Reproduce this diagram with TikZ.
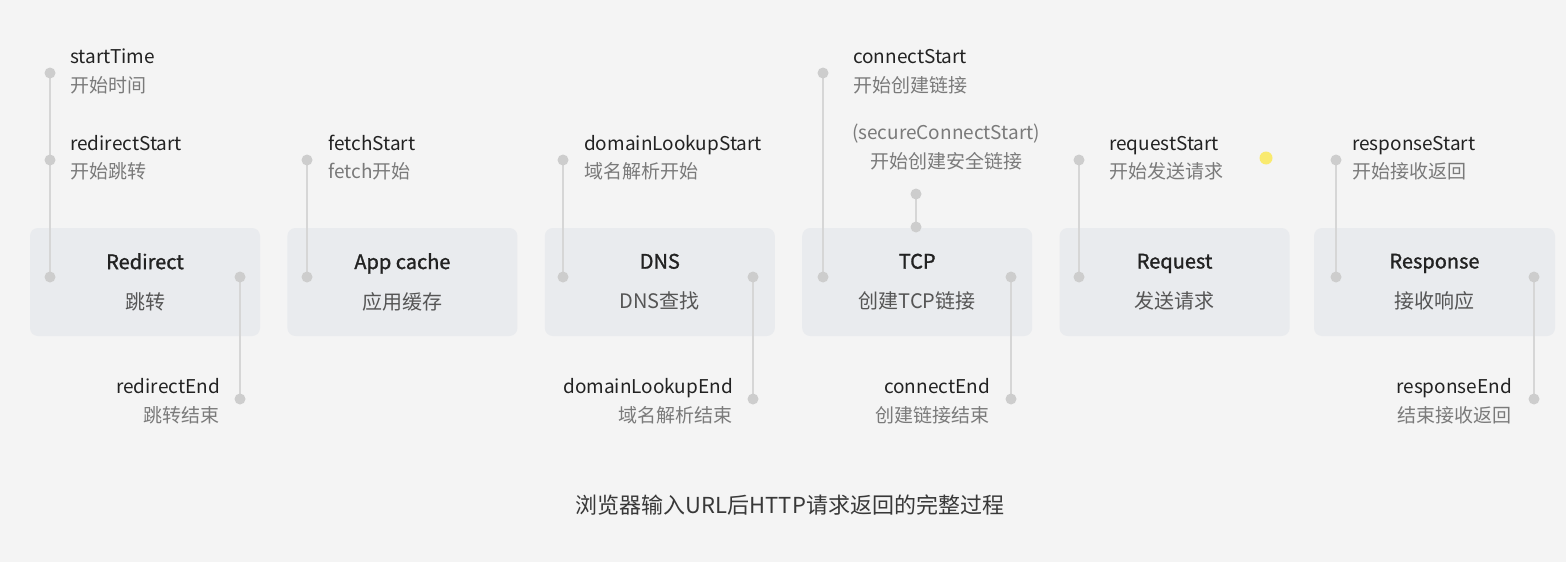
\documentclass[tikz,border=0pt]{standalone}
\usepackage{fontspec}
\setmainfont{Noto Sans CJK SC}
\newfontfamily\stagefont[FakeBold=1.3]{Noto Sans CJK SC}
\usetikzlibrary{positioning}
\definecolor{bgpage}{HTML}{F4F4F4}
\definecolor{boxgray}{HTML}{E9EBEE}
\definecolor{dotgray}{HTML}{CDCDCD}
\definecolor{linegray}{HTML}{D6D6D6}
\definecolor{ink}{HTML}{222222}
\definecolor{subink}{HTML}{555555}
\definecolor{mute}{HTML}{7A7A7A}
\tikzset{
  stage/.style={rounded corners=8pt,fill=boxgray,minimum width=230pt,minimum height=108pt,
                inner sep=0pt,align=center,font=\fontsize{20}{40}\selectfont,text=ink},
  tdot/.style={circle,fill=dotgray,inner sep=0pt,minimum size=11pt},
  link/.style={draw=linegray,line width=2pt},
  evname/.style={font=\fontsize{19}{22}\selectfont,text=ink,inner sep=0pt,
                 text height=14pt,text depth=4pt},
  evzh/.style={evname,text=mute},
}

\begin{document}
\begin{tikzpicture}[x=1pt,y=-1pt]
  \fill[bgpage] (0,0) rectangle (1566,562);
  \useasboundingbox (0,0) rectangle (1566,562);

  % stages
  \node[stage] (redirect) at (145,282) {{\stagefont Redirect}\\{\color{subink}跳转}};
  \node[stage,right=27pt of redirect] (appcache) {{\stagefont App cache}\\{\color{subink}应用缓存}};
  \node[stage,right=27pt of appcache] (dns) {{\stagefont DNS}\\{\color{subink}DNS查找}};
  \node[stage,right=27pt of dns] (tcp) {{\stagefont TCP}\\{\color{subink}创建TCP链接}};
  \node[stage,right=27pt of tcp] (request) {{\stagefont Request}\\{\color{subink}发送请求}};
  \node[stage,minimum width=241pt,right=24pt of request] (response) {{\stagefont Response}\\{\color{subink}接收响应}};

  % time points
  \coordinate (pStart) at (50,73);
  \coordinate (pRedirS) at (50,160);
  \coordinate (pRedirL) at (50,277);
  \coordinate (pRedirR) at (240,277);
  \coordinate (pRedirE) at (240,399);
  \coordinate (pFetchS) at (307,160);
  \coordinate (pFetchL) at (307,277);
  \coordinate (pDnsS) at (563,160);
  \coordinate (pDnsL) at (563,277);
  \coordinate (pDnsR) at (753,277);
  \coordinate (pDnsE) at (753,399);
  \coordinate (pConnS) at (823,73);
  \coordinate (pConnL) at (823,277);
  \coordinate (pSecS) at (916,194);
  \coordinate (pSecT) at (916,227);
  \coordinate (pConnR) at (1011,277);
  \coordinate (pConnE) at (1011,399);
  \coordinate (pReqS) at (1079,160);
  \coordinate (pReqL) at (1079,277);
  \coordinate (pRespS) at (1336,160);
  \coordinate (pRespL) at (1336,277);
  \coordinate (pRespR) at (1534,277);
  \coordinate (pRespE) at (1534,399);

  \draw[link] (pStart) -- (pRedirS) -- (pRedirL);
  \draw[link] (pRedirR) -- (pRedirE);
  \draw[link] (pFetchS) -- (pFetchL);
  \draw[link] (pDnsS) -- (pDnsL);
  \draw[link] (pDnsR) -- (pDnsE);
  \draw[link] (pConnS) -- (pConnL);
  \draw[link] (pSecS) -- (pSecT);
  \draw[link] (pConnR) -- (pConnE);
  \draw[link] (pReqS) -- (pReqL);
  \draw[link] (pRespS) -- (pRespL);
  \draw[link] (pRespR) -- (pRespE);

  \foreach \p in {pStart,pRedirS,pRedirL,pRedirR,pRedirE,pFetchS,pFetchL,pDnsS,pDnsL,pDnsR,pDnsE,
                  pConnS,pConnL,pSecS,pSecT,pConnR,pConnE,pReqS,pReqL,pRespS,pRespL,pRespR,pRespE}
    \node[tdot] (d\p) at (\p) {};

  % labels above
  \node[evname,anchor=west] (lStart) at (70,58) {startTime};
  \node[evzh,anchor=west] (zStart) at (70,87) {开始时间};
  \node[evname,anchor=west] (lRedirS) at (70,145) {redirectStart};
  \node[evzh,anchor=west] (zRedirS) at (70,173) {开始跳转};
  \node[evname,anchor=west] (lFetchS) at (328,145) {fetchStart};
  \node[evzh,anchor=west] (zFetchS) at (328,173) {fetch开始};
  \node[evname,anchor=west] (lDnsS) at (584,145) {domainLookupStart};
  \node[evzh,anchor=west] (zDnsS) at (584,173) {域名解析开始};
  \node[evname,anchor=west] (lConnS) at (853,58) {connectStart};
  \node[evzh,anchor=west] (zConnS) at (853,87) {开始创建链接};
  \node[evname,text=mute] (lSecS) at (946,134) {(secureConnectStart)};
  \node[evzh] (zSecS) at (946,163) {开始创建安全链接};
  \node[evname,anchor=west] (lReqS) at (1109,145) {requestStart};
  \node[evzh,anchor=west] (zReqS) at (1109,173) {开始发送请求};
  \node[evname,anchor=west] (lRespS) at (1352,145) {responseStart};
  \node[evzh,anchor=west] (zRespS) at (1352,173) {开始接收返回};

  % labels below
  \node[evname,anchor=east] (lRedirE) at (220,388) {redirectEnd};
  \node[evzh,anchor=east] (zRedirE) at (220,417) {跳转结束};
  \node[evname,anchor=east] (lDnsE) at (733,388) {domainLookupEnd};
  \node[evzh,anchor=east] (zDnsE) at (733,417) {域名解析结束};
  \node[evname,anchor=east] (lConnE) at (990,388) {connectEnd};
  \node[evzh,anchor=east] (zConnE) at (990,417) {创建链接结束};
  \node[evname,anchor=east] (lRespE) at (1512,388) {responseEnd};
  \node[evzh,anchor=east] (zRespE) at (1512,417) {结束接收返回};

  \fill[yellow!85!orange,opacity=0.55] (1266,158) circle (6.5);

  \node[font=\fontsize{22}{24}\selectfont,text=ink!90] (caption) at (790,505)
    {浏览器输入URL后HTTP请求返回的完整过程};
\end{tikzpicture}
\end{document}
